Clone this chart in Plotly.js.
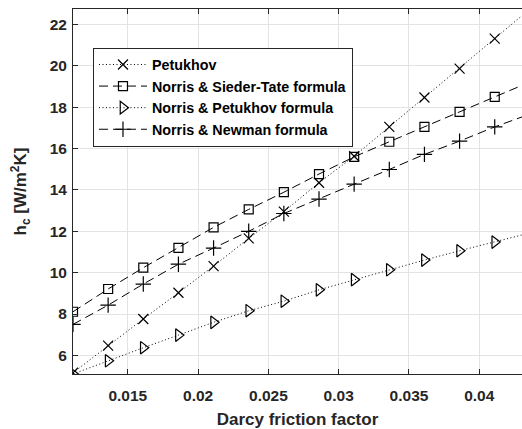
<!DOCTYPE html>
<html>
<head>
<meta charset="utf-8">
<script src="https://cdn.plot.ly/plotly-3.0.1.min.js"></script>
<style>html,body{margin:0;padding:0;background:#fff;overflow:hidden;}#chart{width:522px;height:429px;}</style>
</head>
<body>
<div id="chart"></div>
<script>
const frictionFactor = [0.0111, 0.0136, 0.0161, 0.0186, 0.0211, 0.0236, 0.0261, 0.0286, 0.0311, 0.0336, 0.0361, 0.0386, 0.0411, 0.0436];
const petukhov = [5.16, 6.47, 7.76, 9.03, 10.32, 11.66, 12.95, 14.35, 15.63, 17.05, 18.47, 19.87, 21.32, 22.75];
const siederTate = [8.11, 9.21, 10.24, 11.20, 12.19, 13.06, 13.89, 14.77, 15.60, 16.33, 17.05, 17.78, 18.50, 19.22];
const norrisPetukhov = [5.10, 5.74, 6.37, 6.98, 7.60, 8.16, 8.62, 9.17, 9.66, 10.14, 10.61, 11.06, 11.48, 11.92];
const norrisNewman = [7.50, 8.43, 9.45, 10.41, 11.19, 12.00, 12.86, 13.56, 14.28, 14.99, 15.72, 16.36, 17.05, 17.67];
const seriesNames = ['Petukhov', 'Norris & Sieder-Tate formula', 'Norris & Petukhov formula', 'Norris & Newman formula'];
const xTicks = [0.015, 0.02, 0.025, 0.03, 0.035, 0.04];
const xTickText = ['0.015', '0.02', '0.025', '0.03', '0.035', '0.04'];
const yTicks = [6, 8, 10, 12, 14, 16, 18, 20, 22];

const FONT = 'Liberation Sans, Arial, Helvetica, sans-serif';
const dotted = '1px,2.5px';
const dashed = '9px,5px';

const traces = [
  {y: petukhov, name: seriesNames[0], dash: dotted, symbol: 'x-thin-open', size: 10},
  {y: siederTate, name: seriesNames[1], dash: dashed, symbol: 'square-open', size: 9},
  {y: norrisPetukhov, name: seriesNames[2], dash: dotted, symbol: 'triangle-right-open', size: 11},
  {y: norrisNewman, name: seriesNames[3], dash: dashed, symbol: 'cross-thin-open', size: 11}
].map(s => ({
  type: 'scatter', mode: 'lines+markers', x: frictionFactor, y: s.y, name: s.name,
  line: {color: '#000', width: 1, dash: s.dash},
  marker: {symbol: s.symbol, size: s.size, color: '#000', line: {color: '#000', width: 1.2}}
}));

const layout = {
  width: 522, height: 429,
  margin: {l: 73, r: 0, t: 9, b: 55},
  paper_bgcolor: '#fff', plot_bgcolor: '#fff',
  font: {family: FONT, size: 15, color: '#262626', weight: 'bold'},
  showlegend: true,
  legend: {
    x: 0.0445, y: 0.894, xanchor: 'left', yanchor: 'top',
    bgcolor: '#fff', bordercolor: '#262626', borderwidth: 1,
    font: {family: FONT, size: 14.3, color: '#000', weight: 'bold'},
    itemwidth: 48, tracegroupgap: 0
  },
  xaxis: {
    range: [0.0111, 0.04304], tickvals: xTicks, ticktext: xTickText,
    showgrid: true, gridcolor: '#e3e3e3', gridwidth: 1, zeroline: false,
    showline: true, linecolor: '#262626', linewidth: 1, mirror: 'ticks',
    ticks: 'inside', ticklen: 5, tickcolor: '#262626', ticklabelstandoff: 7,
    tickfont: {family: FONT, size: 15.5, color: '#262626', weight: 'bold'},
    title: {text: 'Darcy friction factor', font: {family: FONT, size: 17, color: '#262626', weight: 'bold'}, standoff: 12}
  },
  yaxis: {
    range: [5.1, 22.75], tickvals: yTicks,
    showgrid: true, gridcolor: '#e3e3e3', gridwidth: 1, zeroline: false,
    showline: true, linecolor: '#262626', linewidth: 1, mirror: false,
    ticks: 'inside', ticklen: 5, tickcolor: '#262626', ticklabelstandoff: 2,
    tickfont: {family: FONT, size: 15.5, color: '#262626', weight: 'bold'},
    title: {text: 'h<sub>c</sub> [W/m<sup>2</sup>K]', font: {family: FONT, size: 17, color: '#262626', weight: 'bold'}, standoff: 18}
  }
};

Plotly.newPlot('chart', traces, layout, {displayModeBar: false, staticPlot: true});
</script>
</body>
</html>
